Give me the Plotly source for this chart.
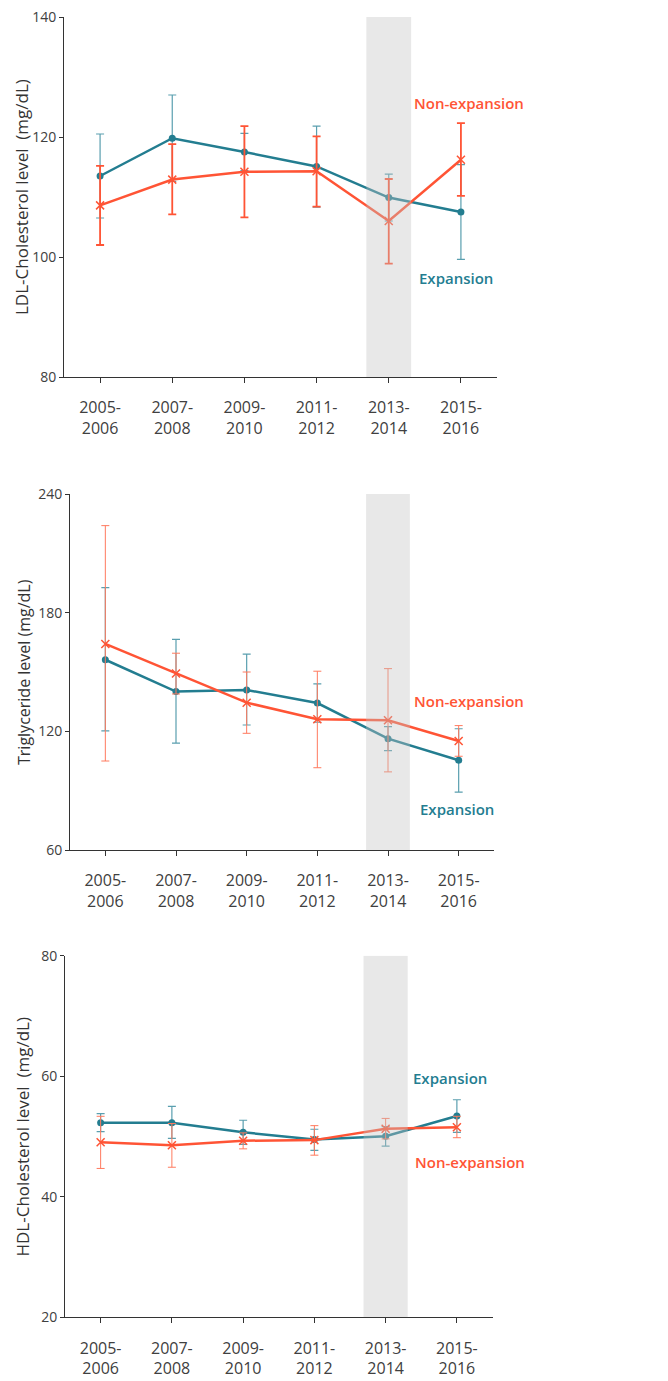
import plotly.graph_objects as go

periods = ["2005-<br>2006", "2007-<br>2008", "2009-<br>2010", "2011-<br>2012", "2013-<br>2014", "2015-<br>2016"]

# LDL-Cholesterol
ldl_exp = [113.5, 119.8, 117.5, 115.1, 109.9, 107.5]
ldl_exp_up = [7.0, 7.2, 3.1, 6.7, 3.9, 7.9]
ldl_exp_dn = [7.0, 7.2, 3.1, 6.8, 3.9, 7.9]
ldl_non = [108.6, 112.9, 114.2, 114.3, 106.0, 116.2]
ldl_non_up = [6.6, 5.9, 7.6, 5.8, 7.0, 6.1]
ldl_non_dn = [6.6, 5.8, 7.6, 5.9, 7.1, 6.0]

# Triglyceride
tg_exp = [156.2, 140.1, 140.9, 134.3, 116.3, 105.4]
tg_exp_up = [36.5, 26.4, 18.1, 9.7, 6.1, 15.9]
tg_exp_dn = [36.0, 26.1, 17.7, 9.7, 6.1, 16.1]
tg_non = [164.2, 149.2, 134.5, 126.1, 125.6, 115.1]
tg_non_up = [59.8, 10.3, 15.5, 24.3, 26.1, 7.8]
tg_non_dn = [59.2, 10.3, 15.5, 24.5, 26.1, 7.7]

# HDL-Cholesterol
hdl_exp = [52.3, 52.3, 50.7, 49.5, 50.05, 53.4]
hdl_exp_up = [1.5, 2.7, 2.0, 1.7, 1.6, 2.7]
hdl_exp_dn = [1.5, 2.6, 2.0, 1.8, 1.65, 2.7]
hdl_non = [49.05, 48.55, 49.3, 49.4, 51.3, 51.55]
hdl_non_up = [4.3, 3.6, 1.3, 2.4, 1.7, 1.8]
hdl_non_dn = [4.35, 3.65, 1.35, 2.5, 1.7, 1.75]

y_titles = ["LDL-Cholesterol level\u00a0 (mg/dL)", "Triglyceride level (mg/dL)", "HDL-Cholesterol level\u00a0 (mg/dL)"]
y_title_sizes = [17, 16, 17]
y_ranges = [[80, 140], [60, 240], [20, 80]]
y_ticks = [[80, 100, 120, 140], [60, 120, 180, 240], [20, 40, 60, 80]]

TEAL = "#237D90"
TEAL_ERR = "#5A9FAF"
RED = "#FF5435"
RED_ERR = "#FF7A5E"
FONT = "Open Sans"

OFF = 8  # page body margin
W, H = 668 - OFF, 1381 - OFF
x_dom_px = [(64, 497), (70, 494), (65, 492.5)]
y_dom_px = [(377, 17), (850, 494), (1317.3, 955.7)]
title_x_px = [22, 24, 22]
band_top = [140.5, 244, 80]


def fx(px):
    return (px - OFF) / W


def fy(py):
    return 1 - (py - OFF) / H


panels = [
    (ldl_exp, ldl_exp_up, ldl_exp_dn, ldl_non, ldl_non_up, ldl_non_dn),
    (tg_exp, tg_exp_up, tg_exp_dn, tg_non, tg_non_up, tg_non_dn),
    (hdl_exp, hdl_exp_up, hdl_exp_dn, hdl_non, hdl_non_up, hdl_non_dn),
]
red_err_w = [1.8, 1.0, 1.0]

# label positions (category index, value)
label_pos = [
    {"non": (5.11, 125.7), "exp": (4.93, 96.5)},
    {"non": (5.15, 135.5), "exp": (4.97, 80.7)},
    {"non": (5.18, 45.7), "exp": (4.91, 59.7)},
]

fig = go.Figure()
shapes = []
annotations = []
layout = {}
for i, (e, eu, ed, n, nu, nd) in enumerate(panels):
    sfx = "" if i == 0 else str(i + 1)
    xa, ya = "x" + sfx, "y" + sfx
    fig.add_trace(go.Scatter(
        x=periods, y=e, xaxis=xa, yaxis=ya, mode="lines+markers",
        line=dict(color=TEAL, width=2.5),
        marker=dict(symbol="circle", size=7, color=TEAL),
        error_y=dict(type="data", array=eu, arrayminus=ed, color=TEAL_ERR, thickness=1.2, width=4),
        showlegend=False,
    ))
    fig.add_trace(go.Scatter(
        x=periods, y=n, xaxis=xa, yaxis=ya, mode="lines+markers",
        line=dict(color=RED, width=2.5),
        marker=dict(symbol="x-thin", size=8, color=RED, line=dict(color=RED, width=1.5)),
        error_y=dict(type="data", array=nu, arrayminus=nd, color=RED if i == 0 else RED_ERR,
                     thickness=red_err_w[i], width=4),
        showlegend=False,
    ))
    x0, x1 = x_dom_px[i]
    yb, yt = y_dom_px[i]
    layout["xaxis" + sfx] = dict(
        domain=[fx(x0), fx(x1)], anchor=ya, type="category", range=[-0.5, 5.5],
        showline=True, linecolor="#333333", linewidth=1, ticks="outside", ticklen=5,
        tickcolor="#333333", showgrid=False, zeroline=False, automargin=False,
        ticklabelstandoff=11, ticklabeloverflow="allow",
        tickfont=dict(family=FONT, size=16, color="#404040"),
    )
    layout["yaxis" + sfx] = dict(
        domain=[fy(yb), fy(yt)], anchor=xa, range=y_ranges[i],
        tickvals=y_ticks[i], showline=True, linecolor="#333333", linewidth=1,
        ticks="outside", ticklen=4, tickcolor="#333333", showgrid=False, zeroline=False,
        automargin=False, ticklabeloverflow="allow",
        tickfont=dict(family=FONT, size=14, color="#404040"),
    )
    annotations.append(dict(
        x=fx(title_x_px[i]), y=(fy(yb) + fy(yt)) / 2, xref="paper", yref="paper",
        text=y_titles[i], textangle=-90, showarrow=False,
        font=dict(family=FONT, size=y_title_sizes[i], color="#333333"),
        xanchor="center", yanchor="middle",
    ))
    shapes.append(dict(
        type="rect", xref=xa, yref=ya, x0=3.69, x1=4.31, y0=y_ranges[i][0], y1=band_top[i],
        fillcolor="rgba(195,195,195,0.38)", line=dict(width=0), layer="above",
    ))
    for key, txt, col in [("non", "Non-expansion", RED), ("exp", "Expansion", TEAL)]:
        px_, py_ = label_pos[i][key]
        annotations.append(dict(
            x=px_, y=py_, xref=xa, yref=ya, text=txt, showarrow=False,
            font=dict(family=FONT, size=15, color=col, weight=600),
            xanchor="center", yanchor="middle",
        ))

fig.update_layout(
    width=W, height=H, margin=dict(l=0, r=0, t=0, b=0, autoexpand=False),
    paper_bgcolor="white", plot_bgcolor="white",
    shapes=shapes, annotations=annotations, **layout,
)
fig.write_html("out.html")
